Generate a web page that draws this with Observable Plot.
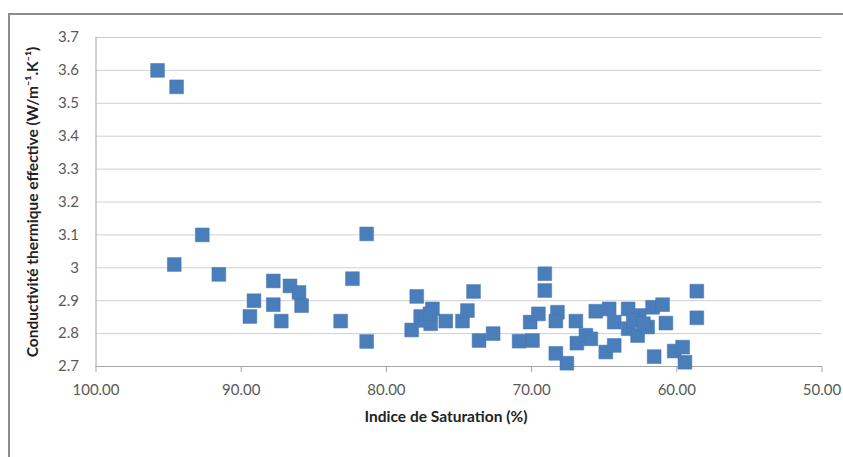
<!DOCTYPE html>
<html><head><meta charset="utf-8">
<script src="https://cdn.jsdelivr.net/npm/d3@7"></script>
<script src="https://cdn.jsdelivr.net/npm/@observablehq/plot@0.6"></script>
<style>
html,body{margin:0;padding:0;background:#fff;overflow:hidden}
#wrap{position:relative;width:843px;height:457px}
#frame{position:absolute;left:8px;top:13px;width:900px;height:500px;border-top:2px solid #8c8c8c;border-left:2px solid #8c8c8c;box-sizing:border-box}
#chart{position:absolute;left:0;top:0}
</style></head><body><div id="wrap"><div id="frame"></div><div id="chart"></div></div>
<script>
const saturation = [95.76, 94.45, 92.68, 94.61, 91.54, 87.79, 86.64, 86.02, 85.84, 89.12, 89.40, 87.79, 87.24,
  81.36, 82.34, 83.15, 81.36, 77.91, 78.26, 77.64, 76.83, 76.95, 77.30, 75.91, 74.76, 74.42, 74.00, 73.62, 72.65,
  70.86, 69.94, 70.10, 69.53, 69.09, 69.09, 68.22, 68.33, 68.33, 67.57, 66.95, 66.88, 66.26, 65.92, 65.58, 64.89,
  64.66, 64.31, 64.31, 63.35, 63.35, 62.70, 62.59, 62.01, 61.67, 60.98, 60.75, 61.56, 60.18, 59.60, 59.44, 58.62,
  58.62, 63.00, 62.30, 77.00];
const conductivity = [3.60, 3.55, 3.10, 3.01, 2.98, 2.96, 2.945, 2.925, 2.885, 2.90, 2.852, 2.888, 2.838,
  3.103, 2.967, 2.838, 2.776, 2.913, 2.811, 2.852, 2.875, 2.83, 2.84, 2.838, 2.838, 2.87, 2.928, 2.779, 2.80,
  2.777, 2.779, 2.835, 2.86, 2.931, 2.982, 2.865, 2.838, 2.74, 2.71, 2.838, 2.771, 2.795, 2.784, 2.868, 2.744,
  2.875, 2.835, 2.764, 2.875, 2.815, 2.794, 2.855, 2.82, 2.88, 2.888, 2.832, 2.73, 2.747, 2.759, 2.713, 2.929,
  2.848, 2.84, 2.83, 2.86];
const xTicks = [100, 90, 80, 70, 60, 50];
const yTicks = [2.7, 2.8, 2.9, 3.0, 3.1, 3.2, 3.3, 3.4, 3.5, 3.6, 3.7];
const xTitle = "Indice de Saturation (%)";
const yTitle = "Conductivité thermique effective (W/m⁻¹.K⁻¹)";

const data = saturation.map((s, i) => ({s, k: conductivity[i]}));

const chart = Plot.plot({
  width: 843, height: 457,
  marginLeft: 95.5, marginRight: 21.5, marginTop: 37, marginBottom: 91,
  style: {fontFamily: "Lato", background: "transparent"},
  x: {domain: [100, 50], ticks: xTicks},
  y: {domain: [2.7, 3.7], ticks: yTicks},
  marks: [
    Plot.gridY(yTicks, {stroke: "#cfcfcf", strokeOpacity: 1}),
    Plot.ruleX([100], {stroke: "#a6a6a6"}),
    Plot.ruleY([2.7], {stroke: "#a6a6a6"}),
    Plot.axisX(xTicks, {tickSize: 6, tickPadding: 12, tickFormat: d3.format(".2f"), fontSize: 15, fill: "#595959", stroke: "#a6a6a6", label: null}),
    Plot.axisY(yTicks, {tickSize: 0, tickPadding: 17, tickFormat: d => String(+d.toFixed(1)), fontSize: 15, fill: "#595959", label: null}),
    Plot.dot(data, {x: "s", y: "k", symbol: "square", r: 7.8, fill: "#4a7ebb", stroke: "#4577b3", strokeWidth: 0.5}),
    Plot.text([xTitle], {frameAnchor: "bottom", dy: 50.7, dx: -13, lineAnchor: "middle", fontWeight: "bold", fontSize: 15.5, fill: "#222"}),
    Plot.text([yTitle], {frameAnchor: "left", rotate: -90, dx: -62.5, lineAnchor: "middle", textAnchor: "middle", fontWeight: "bold", fontSize: 15.5, fill: "#222"})
  ]
});
document.getElementById("chart").append(chart);
</script></body></html>
